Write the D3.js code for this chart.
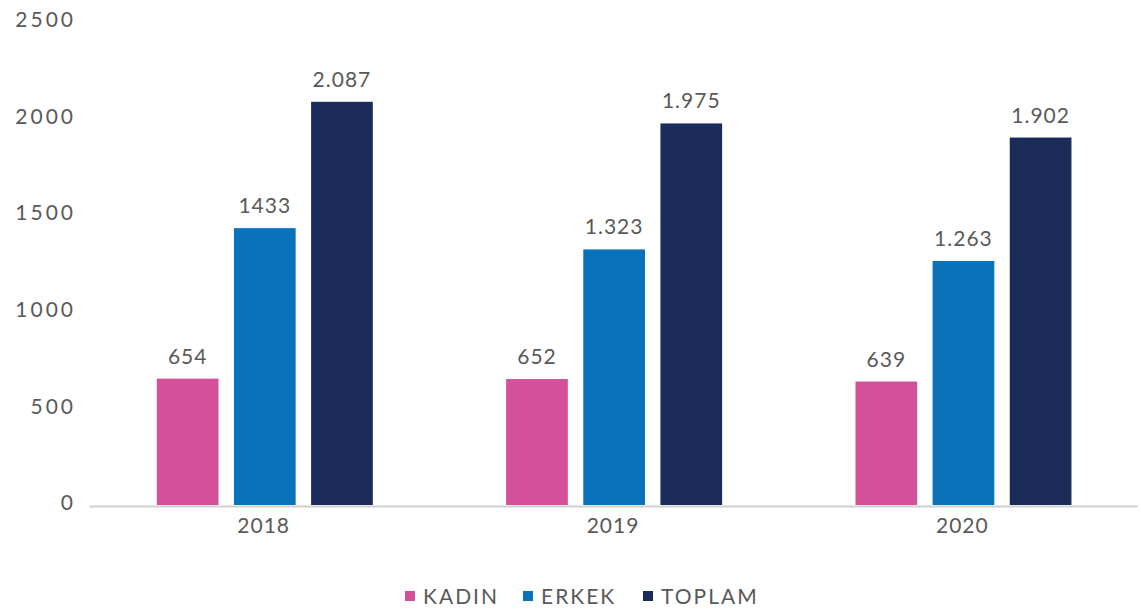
<!DOCTYPE html>
<html>
<head>
<meta charset="utf-8">
<script src="https://cdn.jsdelivr.net/npm/d3@7"></script>
<style>
  body { margin: 0; background: #fff; }
  svg text { font-family: "Lato", "Open Sans", sans-serif; fill: #595959; }
</style>
</head>
<body>
<div id="chart"></div>
<script>
// data
var years = ["2018", "2019", "2020"];
var seriesNames = ["KADIN", "ERKEK", "TOPLAM"];
var kadin = [654, 652, 639];
var erkek = [1433, 1323, 1263];
var toplam = [2087, 1975, 1902];
var valueLabels = [
  ["654", "1433", "2.087"],
  ["652", "1.323", "1.975"],
  ["639", "1.263", "1.902"]
];
var yTicks = [0, 500, 1000, 1500, 2000, 2500];
var colors = ["#d4509b", "#0a72ba", "#1c2c5a"];

var W = 1141, H = 610;
var svg = d3.select("#chart").append("svg")
    .attr("width", W)
    .attr("height", H);

var x0 = d3.scaleBand()
    .domain(years)
    .range([89, 1137])
    .padding(0);

var x1 = d3.scaleBand()
    .domain(seriesNames)
    .range([67.8, 283.8])
    .paddingInner(0.2)
    .paddingOuter(0);

var y = d3.scaleLinear()
    .domain([0, 2500])
    .range([505, 22]);

// y tick labels (no axis line)
var yAxis = svg.append("g")
    .attr("transform", "translate(76,-2)")
    .call(d3.axisLeft(y).tickValues(yTicks).tickSize(0).tickPadding(0)
      .tickFormat(function(d) { return d; }));
yAxis.select(".domain").remove();
yAxis.selectAll("text")
    .style("font-size", "21px")
    .style("letter-spacing", "3px")
    .attr("fill", "#595959");

// rows of values for each year
var rows = years.map(function(yr, i) {
  return [kadin[i], erkek[i], toplam[i]].map(function(v, j) {
    return { year: yr, name: seriesNames[j], value: v, label: valueLabels[i][j], color: colors[j] };
  });
});

var groups = svg.selectAll(".grp")
    .data(rows)
  .enter().append("g")
    .attr("class", "grp")
    .attr("transform", function(d, i) { return "translate(" + x0(years[i]) + ",0)"; });

groups.selectAll("rect")
    .data(function(d) { return d; })
  .enter().append("rect")
    .attr("x", function(d) { return x1(d.name); })
    .attr("width", x1.bandwidth())
    .attr("y", function(d) { return y(d.value); })
    .attr("height", function(d) { return y(0) - y(d.value); })
    .attr("fill", function(d) { return d.color; });

groups.selectAll(".val")
    .data(function(d) { return d; })
  .enter().append("text")
    .attr("class", "val")
    .attr("x", function(d) { return x1(d.name) + x1.bandwidth() / 2; })
    .attr("y", function(d) { return y(d.value) - 15; })
    .attr("text-anchor", "middle")
    .style("font-size", "21px")
    .style("letter-spacing", "1px")
    .text(function(d) { return d.label; });

// x axis baseline
var xAxis = svg.append("g")
    .attr("transform", "translate(0,506)")
    .call(d3.axisBottom(x0).tickSize(0).tickPadding(12));
xAxis.select(".domain").attr("stroke", "#d0d0d0").attr("stroke-width", 2);
xAxis.selectAll("text")
    .style("font-size", "21px")
    .style("letter-spacing", "1px")
    .attr("fill", "#595959");

// legend
var legendX = [405, 523, 643];
var legend = svg.selectAll(".leg")
    .data(seriesNames)
  .enter().append("g")
    .attr("class", "leg")
    .attr("transform", function(d, i) { return "translate(" + legendX[i] + ",591)"; });
legend.append("rect")
    .attr("width", 10).attr("height", 10)
    .attr("fill", function(d, i) { return colors[i]; });
legend.append("text")
    .attr("x", 18).attr("y", 5)
    .attr("dy", "0.36em")
    .style("font-size", "21px")
    .style("letter-spacing", "2px")
    .text(function(d) { return d; });
</script>
</body>
</html>
